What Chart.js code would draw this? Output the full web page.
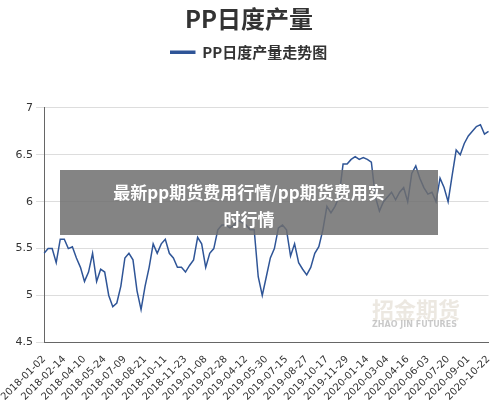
<!DOCTYPE html>
<html><head><meta charset="utf-8">
<script src="https://cdn.jsdelivr.net/npm/chart.js@4"></script>
<style>html,body{margin:0;background:#fff}#wrap{width:500px;height:406px}</style>
</head><body><div id="wrap"><canvas id="c"></canvas></div>
<script>
const tickDates = ['2018-01-02','2018-02-14','2018-04-10','2018-05-24','2018-07-09','2018-08-21','2018-10-11','2018-11-23','2019-01-08','2019-02-28','2019-04-12','2019-05-30','2019-07-15','2019-08-27','2019-10-17','2019-11-29','2020-01-14','2020-03-04','2020-04-16','2020-06-03','2020-07-20','2020-09-01','2020-10-22'];
const output = [5.45,5.5,5.5,5.35,5.6,5.6,5.5,5.52,5.4,5.3,5.15,5.25,5.45,5.15,5.28,5.25,5.0,4.88,4.92,5.1,
5.4,5.45,5.38,5.05,4.85,5.1,5.3,5.55,5.45,5.55,5.6,5.45,5.4,5.3,5.3,5.25,5.32,5.38,5.62,5.55,
5.3,5.45,5.5,5.7,5.75,5.75,5.72,5.75,5.8,5.78,5.75,5.7,5.7,5.2,5.0,5.2,5.4,5.5,5.72,5.75,
5.7,5.42,5.55,5.35,5.28,5.22,5.3,5.45,5.52,5.7,5.95,5.88,5.95,6.05,6.4,6.4,6.45,6.48,6.45,6.47,
6.45,6.42,6.05,5.9,6.0,6.05,6.1,6.02,6.1,6.15,6.0,6.3,6.38,6.25,6.15,6.08,6.1,6.0,6.25,6.15,
6.0,6.28,6.55,6.5,6.62,6.7,6.75,6.8,6.82,6.72,6.75];
const labels = output.map((_, i) => i % 5 === 0 ? tickDates[i / 5] : '');

const legendGap = {
  id: 'legendGap',
  beforeInit(chart) {
    const fit = chart.legend.fit;
    chart.legend.fit = function() { fit.bind(chart.legend)(); this.height += 38; };
  }
};

const overlay = {
  id: 'overlay',
  afterDraw(chart) {
    const ctx = chart.ctx;
    ctx.save();
    ctx.fillStyle = 'rgba(200,190,170,0.35)';
    ctx.font = 'bold 22px "Noto Sans CJK SC"';
    ctx.fillText('招金期货', 372, 310);
    ctx.font = 'bold 8px "DejaVu Sans"';
    ctx.fillStyle = 'rgba(150,150,150,0.5)';
    ctx.fillText('ZHAO JIN FUTURES', 372, 325);
    ctx.fillStyle = 'rgba(110,110,110,0.85)';
    ctx.fillRect(60, 170, 378, 65);
    ctx.fillStyle = '#fff';
    ctx.textAlign = 'center';
    ctx.font = 'bold 17px "Noto Sans CJK SC"';
    ctx.fillText('最新pp期货费用行情/pp期货费用实', 249, 193);
    ctx.fillText('时行情', 249, 220);
    ctx.restore();
  }
};

new Chart(document.getElementById('c'), {
  type: 'line',
  data: { labels: labels, datasets: [{ label: 'PP日度产量走势图', data: output, borderColor: '#2f5597', backgroundColor: '#2f5597', borderWidth: 1.5, pointRadius: 0, pointStyle: 'circle', tension: 0 }] },
  options: {
    responsive: true, maintainAspectRatio: false, animation: false,
    layout: { padding: { left: 4, right: 6, top: 2 } },
    plugins: {
      title: { display: true, text: 'PP日度产量', color: '#333', font: { family: 'Noto Sans CJK SC', size: 24, weight: 'bold' }, padding: { top: 2, bottom: 2 } },
      legend: { labels: { color: '#333', font: { family: 'Noto Sans CJK SC', size: 15, weight: 'bold' }, boxWidth: 24, boxHeight: 2, padding: 10 } },
      tooltip: { enabled: false }
    },
    scales: {
      x: { grid: { display: false }, border: { color: '#666' },
        ticks: { autoSkip: false, maxRotation: 45, minRotation: 45, color: '#333', font: { family: 'DejaVu Sans', size: 10 },
          callback: function(v) { return this.getLabelForValue(v); } } },
      y: { min: 4.5, max: 7, border: { color: '#666' }, grid: { color: '#ddd' },
        ticks: { stepSize: 0.5, color: '#333', font: { family: 'DejaVu Sans', size: 11 }, callback: v => String(v) } }
    }
  },
  plugins: [legendGap, overlay]
});
</script></body></html>
